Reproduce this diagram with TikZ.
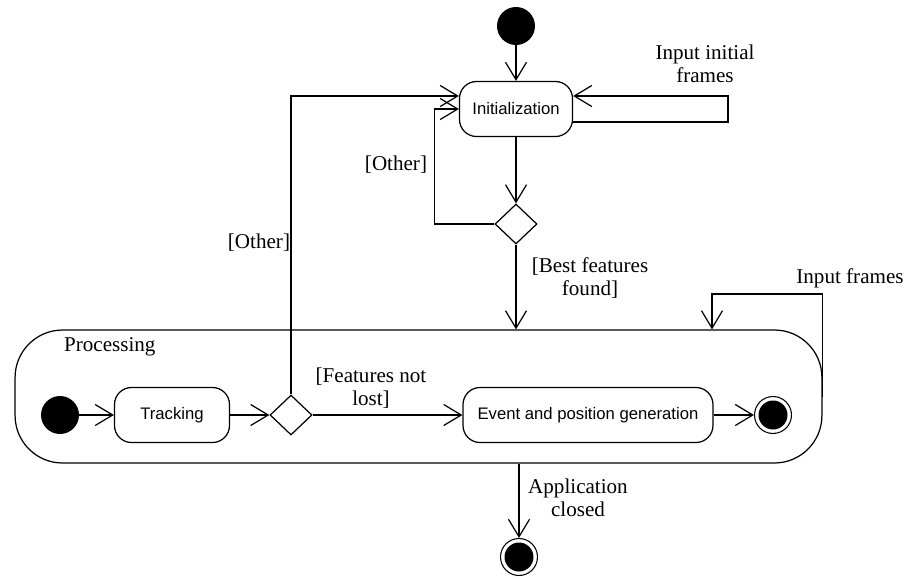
\documentclass[tikz,border=0pt]{standalone}
\usepackage{fontspec}
\setmainfont{Liberation Serif}
\newfontfamily\actfont{Liberation Sans}
\usetikzlibrary{arrows.meta,shapes.geometric}
\tikzset{
  flow/.style={-{Straight Barb[length=10pt,width=12pt]},line width=0.7pt},
  activity/.style={draw,line width=0.7pt,rounded corners=0.34cm,minimum height=1.1cm,font=\actfont\fontsize{9.5}{11}\selectfont},
  decision/.style={draw,diamond,line width=0.7pt,inner sep=0pt,minimum width=0.84cm,minimum height=0.8cm},
  initial/.style={circle,fill=black,minimum size=0.76cm,inner sep=0pt},
  final/.style={circle,draw,line width=0.6pt,minimum size=0.74cm,inner sep=0pt,path picture={\fill (path picture bounding box.center) circle (0.29cm);}},
  guard/.style={font=\fontsize{12}{13}\selectfont,align=center,inner sep=1pt}
}
\begin{document}
\begin{tikzpicture}[x=0.02cm,y=-0.02cm]
    \useasboundingbox (0,0) rectangle (907,579);

    % Processing (composite activity)
    \node[draw,line width=0.7pt,rounded corners=0.95cm,minimum width=16.14cm,minimum height=2.66cm] (proc) at (418.5,396.5) {};
    \node[guard,anchor=west] (procLbl) at (62,347) {Processing};

    % Initialization part
    \node[initial] (start) at (516,26) {};
    \node[activity,minimum width=2.26cm] (init) at (516,109) {Initialization};
    \node[decision] (dec1) at (516,224) {};
    \coordinate (initLoop) at (728,96);
    \draw[flow] (start) -- (init);
    \draw[flow] (init) -- (dec1);
    \draw[flow] ([yshift=-0.26cm]init.east) -| (initLoop) -- (initLoop -| init.east);
    \draw[flow] (dec1.west) -- ++(-1.2cm,0) |- (init.west);
    \draw[flow] (dec1.south) -- (dec1 |- proc.north);
    \node[guard] (lblInput) at (705,64) {Input initial\\frames};
    \node[guard] (lblOther1) at (396,165) {[Other]};
    \node[guard] (lblBest) at (590,278) {[Best features\\found]};

    % Inside processing
    \node[initial] (pstart) at (60,415) {};
    \node[activity,minimum width=2.3cm] (track) at (172,415) {Tracking};
    \node[decision] (dec2) at (291,415) {};
    \node[activity,minimum width=5cm] (event) at (588,415) {Event and position generation};
    \node[final] (pend) at (773,415) {};
    \draw[flow] (pstart) -- (track);
    \draw[flow] (track) -- (dec2);
    \draw[flow] (dec2) -- (event);
    \draw[flow] (event) -- (pend);
    \draw[flow] (dec2.north) |- ([yshift=0.26cm]init.west);
    \node[guard] (lblLost) at (371,388) {[Features not\\lost]};
    \node[guard] (lblOther2) at (259,243) {[Other]};

    % Input frames loop
    \coordinate (frLoop) at (712,294);
    \draw[flow] (proc.east) -- (proc.east |- frLoop) -- (frLoop) -- (frLoop |- proc.north);
    \node[guard] (lblFrames) at (850,278) {Input frames};

    % Application closed
    \node[final] (fin) at (519,557) {};
    \draw[flow] (fin |- proc.south) -- (fin);
    \node[guard] (lblClosed) at (578,498) {Application\\closed};
\end{tikzpicture}
\end{document}
